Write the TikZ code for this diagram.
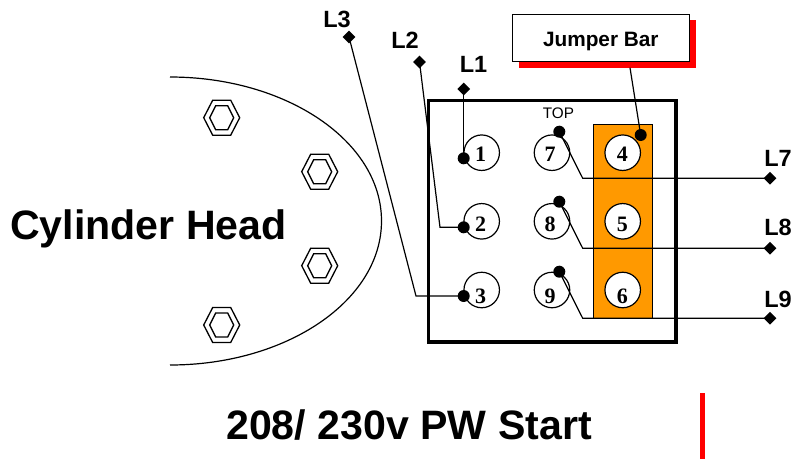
\documentclass[tikz,border=0pt]{standalone}
\usepackage{fontspec}
\usepackage{xcolor}
\usetikzlibrary{shapes.geometric}
\setmainfont{Liberation Sans}
\newfontfamily\numfont{Liberation Serif}
\definecolor{barorange}{RGB}{255,153,0}
\definecolor{shadowred}{RGB}{255,0,0}
\tikzset{
  term/.style={circle,draw=black,fill=white,line width=1.2pt,minimum size=35.5pt,inner sep=0pt},
  termnum/.style={inner sep=0pt,font=\numfont\bfseries\fontsize{22}{22}\selectfont},
  dot/.style={circle,fill=black,minimum size=12pt,inner sep=0pt},
  tip/.style={diamond,fill=black,minimum size=13pt,inner sep=0pt},
  wire/.style={line width=1.2pt},
  lead/.style={inner sep=0pt,font=\bfseries\fontsize{23.5}{23.5}\selectfont},
  bigtext/.style={inner sep=0pt,font=\bfseries\fontsize{41.1}{41.1}\selectfont},
  bolt/.pic={
    \draw[line width=1.3pt] (-18,0) -- (-9,-17.5) -- (9,-17.5) -- (18,0) -- (9,17.5) -- (-9,17.5) -- cycle;
    \draw[line width=1.3pt] (-12,0) -- (-6,-12) -- (6,-12) -- (12,0) -- (6,12) -- (-6,12) -- cycle;
  }
}
\begin{document}
\begin{tikzpicture}[x=1pt,y=-1pt]
                \useasboundingbox (0,0) rectangle (793,459);

                % Cylinder head
                \draw[line width=1.2pt] (170,77) .. controls (286,77) and (381.5,141) .. (381.5,221)
                    .. controls (381.5,301) and (286,365) .. (170,365);
                \node[bigtext] (head) at (148.5,229) {Cylinder Head};

                % Bolts
                \pic at (221.7,117.7) {bolt};
                \pic at (319.7,171.7) {bolt};
                \pic at (319.7,265.7) {bolt};
                \pic at (221.7,325) {bolt};

                % Terminal box
                \draw[line width=3.2pt] (428.5,100.7) rectangle (676,342);
                \node[inner sep=0pt,font=\fontsize{15.3}{15.3}\selectfont] (top) at (558.5,113.5) {TOP};

                % Jumper bar
                \fill[barorange] (593.3,124) rectangle (652,318);
                \draw[line width=0.8pt] (593.3,318) -- (593.3,124) -- (652,124) -- (652,318);

                % Terminals
                \node[term] (t1) at (481.7,152.7) {};
                \node[term] (t2) at (481.7,221.3) {};
                \node[term] (t3) at (481.7,290) {};
                \node[term] (t7) at (552,152.7) {};
                \node[term] (t8) at (552,221.3) {};
                \node[term] (t9) at (552,290) {};
                \node[term] (t4) at (622.7,152.7) {};
                \node[term] (t5) at (622.7,221.3) {};
                \node[term] (t6) at (622.7,290) {};
                \node[termnum] (n1) at (480.7,154.5) {1};
                \node[termnum] (n2) at (480.7,224) {2};
                \node[termnum] (n3) at (480.7,296) {3};
                \node[termnum] (n7) at (550,154.5) {7};
                \node[termnum] (n8) at (550,224) {8};
                \node[termnum] (n9) at (550,296) {9};
                \node[termnum] (n4) at (622.3,154.5) {4};
                \node[termnum] (n5) at (622.3,224) {5};
                \node[termnum] (n6) at (622.3,296) {6};

                % Lug dots
                \node[dot] (d1) at (463.7,158.3) {};
                \node[dot] (d2) at (463.7,227.3) {};
                \node[dot] (d3) at (463.7,296) {};
                \node[dot] (d7) at (559.3,131.7) {};
                \node[dot] (d8) at (559.3,201.7) {};
                \node[dot] (d9) at (559.3,271.7) {};
                \node[dot] (d4) at (640.7,135) {};

                % Lead ends
                \node[tip] (e1) at (463.7,89) {};
                \node[tip] (e2) at (419.5,62) {};
                \node[tip] (e3) at (349,37) {};
                \node[tip] (e7) at (770,178.3) {};
                \node[tip] (e8) at (770,248.3) {};
                \node[tip] (e9) at (770,318.3) {};
                \node[lead] (l1) at (473.5,64) {L1};
                \node[lead] (l2) at (405,40) {L2};
                \node[lead] (l3) at (337,19) {L3};
                \node[lead] (l7) at (778,158.5) {L7};
                \node[lead] (l8) at (778,227) {L8};
                \node[lead] (l9) at (778,299) {L9};

                % Wires
                \coordinate (k2) at (440,227.3);
                \coordinate (k3) at (416,296);
                \coordinate (k7) at (582.7,178.3);
                \coordinate (k8) at (582.7,248.3);
                \coordinate (k9) at (582.7,318.3);
                \draw[wire] (e1.center) -- (d1.center);
                \draw[wire] (e2.center) -- (k2) -- (d2.center);
                \draw[wire] (e3.center) -- (k3) -- (d3.center);
                \draw[wire] (d7.center) -- (k7) -- (e7.center);
                \draw[wire] (d8.center) -- (k8) -- (e8.center);
                \draw[wire] (d9.center) -- (k9) -- (e9.center);

                % Jumper label
                \fill[shadowred] (518.8,20.3) rectangle (695.8,67.7);
                \node[draw=black,fill=white,line width=1.2pt,minimum width=177pt,minimum height=47.4pt,inner sep=0pt,text height=17.4pt,text depth=0pt,font=\bfseries\fontsize{20.8}{20.8}\selectfont] (jumper) at (600.8,38) {Jumper Bar};
                \coordinate (jfoot) at (630,67.7);
                \draw[wire] (jfoot) -- (d4.center);

                % Title
                \node[bigtext] (title) at (409,425) {208/ 230v PW Start};
                \fill[shadowred] (700,393) rectangle (705,459);
\end{tikzpicture}
\end{document}
